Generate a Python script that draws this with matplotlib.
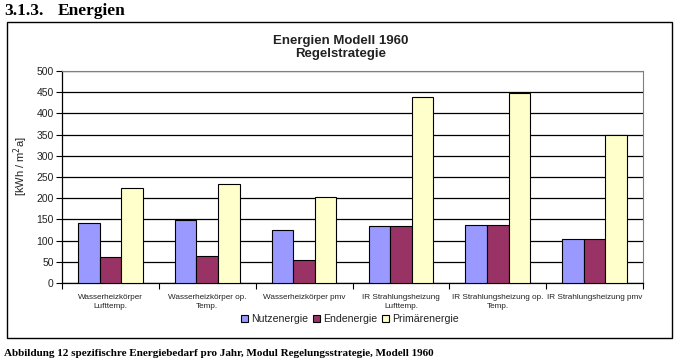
import matplotlib
matplotlib.use("Agg")
import matplotlib.pyplot as plt
from matplotlib.patches import Rectangle, Patch
import numpy as np

categories = ["Wasserheizkörper\nLufttemp.", "Wasserheizkörper op.\nTemp.", "Wasserheizkörper pmv",
              "IR Strahlungsheizung\nLufttemp.", "IR Strahlungsheizung op.\nTemp.", "IR Strahlungsheizung pmv"]
nutzenergie = [141, 149, 124, 134, 136, 103]
endenergie = [61, 63, 54, 134, 136, 103]
primaerenergie = [223, 233, 203, 438, 447, 349]
series_names = ["Nutzenergie", "Endenergie", "Primärenergie"]
colors = ["#9999FF", "#993366", "#FFFFCC"]

W, H = 681, 360
plt.rcParams["font.family"] = ["Liberation Sans", "DejaVu Sans"]
fig = plt.figure(figsize=(W / 100, H / 100), dpi=100)

def fx(px): return px / W
def fy(py): return 1 - py / H

# chart box
fig.patches.append(Rectangle((fx(7), fy(338)), fx(672) - fx(7), fy(22) - fy(338),
                             transform=fig.transFigure, fill=False, ec="black", lw=1))

ax = fig.add_axes([fx(62), fy(283), fx(643) - fx(62), fy(71) - fy(283)])
x = np.arange(len(categories))
bw = 1 / 4.5
for i, (vals, col) in enumerate(zip([nutzenergie, endenergie, primaerenergie], colors)):
    ax.bar(x + (i - 1) * bw, vals, bw, color=col, edgecolor="black", lw=0.8, zorder=3)

ax.set_xlim(-0.5, len(categories) - 0.5)
ax.set_ylim(0, 500)
ax.set_yticks(range(0, 501, 50))
ax.yaxis.grid(True, color="black", lw=0.9, zorder=0)
ax.tick_params(axis="y", labelsize=7.5, length=4, width=0.8, pad=2, direction="out", labelcolor="#222222")
ax.set_xticks(x)
ax.set_xticklabels(categories, fontsize=5.9, linespacing=1.45, color="#222222")
ax.tick_params(axis="x", length=0, pad=8)
ax.set_xticks(np.arange(-0.5, len(categories)), minor=True)
ax.tick_params(axis="x", which="minor", length=4, width=0.8, direction="out")
for s in ("top", "right"):
    ax.spines[s].set_color("#808080")
for s in ("left", "bottom"):
    ax.spines[s].set_color("black")
    ax.spines[s].set_linewidth(0.9)

fig.text(fx(21), fy(166), "[kWh / m$^2$a]", rotation=90, ha="center", va="center", fontsize=8, color="#222222")
fig.text(fx(341), fy(41), "Energien Modell 1960", ha="center", va="center", fontsize=9.5, weight="bold", color="#222222")
fig.text(fx(341), fy(53.5), "Regelstrategie", ha="center", va="center", fontsize=9.5, weight="bold", color="#222222")

handles = [Patch(facecolor=c, edgecolor="black", lw=0.8) for c in colors]
fig.legend(handles, series_names, loc="center", bbox_to_anchor=(fx(350), fy(319)), ncol=3,
           frameon=False, fontsize=7.6, handlelength=0.7, handleheight=0.7,
           handletextpad=0.3, columnspacing=0.4, borderpad=0, labelcolor="#222222")

fig.text(fx(4), fy(11), "3.1.3.", fontsize=12.5, weight="bold", family="Liberation Serif", va="center")
fig.text(fx(58), fy(11), "Energien", fontsize=12.5, weight="bold", family="Liberation Serif", va="center")
fig.text(fx(4), fy(353), "Abbildung 12 spezifischre Energiebedarf pro Jahr, Modul Regelungsstrategie, Modell 1960",
         fontsize=8, weight="bold", family="Liberation Serif", va="center")

fig.savefig("out.png", dpi=100)
